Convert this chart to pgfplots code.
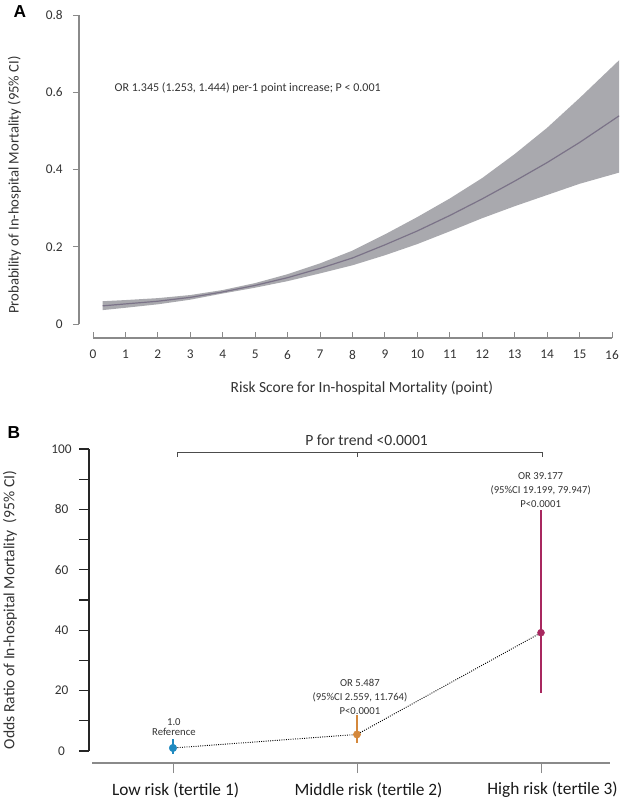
\documentclass[border=0pt]{standalone}
\usepackage{fontspec}
\setmainfont{Carlito}
\newfontfamily\arialf{Liberation Sans}
\usepackage{pgfplots}
\pgfplotsset{compat=1.18}
\usepackage{pgfplotstable}
\definecolor{bandc}{HTML}{A9A9AE}
\definecolor{linec}{HTML}{7B7388}
\definecolor{bluec}{HTML}{1F8AC0}
\definecolor{orangec}{HTML}{D4883C}
\definecolor{magc}{HTML}{A8285F}
\definecolor{txt}{HTML}{333333}
\definecolor{axg}{HTML}{8A8A8A}

\pgfplotstableread{
x mid
0.3 0.047
1 0.052
2 0.059
3 0.069
4 0.083
5 0.100
6 0.120
7 0.144
8 0.171
9 0.205
10 0.241
11 0.281
12 0.324
13 0.370
14 0.418
15 0.470
16.22 0.539
}\midtable

% 95% CI band: upper bound (x increasing) then lower bound (x decreasing)
\pgfplotstableread{
x y
0.3 0.059
1 0.062
2 0.067
3 0.075
4 0.088
5 0.106
6 0.129
7 0.157
8 0.190
9 0.232
10 0.277
11 0.325
12 0.378
13 0.440
14 0.508
15 0.585
16.22 0.683
16.22 0.392
15 0.363
14 0.334
13 0.305
12 0.274
11 0.240
10 0.207
9 0.178
8 0.152
7 0.131
6 0.111
5 0.094
4 0.079
3 0.063
2 0.051
1 0.042
0.3 0.036
0.3 0.059
}\bandtable

\begin{document}
\begin{tikzpicture}
\path[use as bounding box] (0,0) rectangle (469.5pt,-602.25pt);
\node[font=\arialf\bfseries\fontsize{13}{15}\selectfont] at (15pt,-9pt) {A};
\node[font=\arialf\bfseries\fontsize{13}{15}\selectfont] at (10.5pt,-324.75pt) {B};

% ---------------- Panel A
\begin{axis}[
  at={(69.75pt,-243pt)}, anchor=south west,
  scale only axis, width=389.25pt, height=231.75pt,
  xmin=0, xmax=16, ymin=0, ymax=0.8,
  axis x line*=bottom, axis y line*=left,
  axis x line shift=10.5pt, axis y line shift=10.5pt,
  x axis line style={-, draw=axg, line width=0.9pt},
  y axis line style={-, draw=axg, line width=0.9pt},
  xtick={0,1,2,3,4,5,6,7,8,9,10,11,12,13,14,15,16}, ytick={0,0.2,0.4,0.6,0.8},
  tick align=outside, major tick length=4.5pt,
  xtick style={axg, line width=0.7pt, yshift=4.5pt},
  ytick style={axg, line width=0.7pt},
  /pgf/number format/assume math mode=true,
  tick label style={font=\fontsize{10}{12}\selectfont, text=txt},
  xticklabel style={yshift=-1pt},
  yticklabel style={xshift=-4.2pt},
  clip=false,
]
\addplot[fill=bandc, draw=none] table[x=x, y=y] {\bandtable};
\addplot[linec, line width=0.9pt] table[x=x, y=mid] {\midtable};
% x axis line and inward ticks (detached, R style)
\draw[axg, line width=0.9pt] (axis cs:0,-0.03625) -- (axis cs:16,-0.03625);
\pgfplotsinvokeforeach{0,1,...,16}{
  \draw[axg, line width=0.7pt] (axis cs:#1,-0.03625) -- ++(0pt,4.5pt);
}
\node[anchor=west, font=\fontsize{9}{11}\selectfont, text=txt] at (axis cs:0.524,0.612) {OR 1.345 (1.253, 1.444) per-1 point increase; P < 0.001};
\node[font=\fontsize{11.6}{14}\selectfont, text=txt] at (axis cs:8.29,-0.166) {Risk Score for In-hospital Mortality (point)};
\node[rotate=90, font=\fontsize{11}{13}\selectfont, text=txt] at (axis cs:-2.42,0.36) {Probability of In-hospital Mortality (95\% CI)};
\end{axis}

% ---------------- Panel B
\begin{axis}[
  at={(69pt,-563.25pt)}, anchor=south west,
  scale only axis, width=388.5pt, height=226.5pt,
  xmin=-0.44, xmax=2.375, ymin=0, ymax=100,
  axis x line*=bottom, axis y line*=left,
  axis x line shift=9pt, axis y line shift=2.25pt,
  x axis line style={-, draw=axg, line width=0.9pt},
  y axis line style={-, draw=black!85, line width=0.9pt},
  xtick={0,1,2}, xticklabels={,,},
  ytick={0,20,40,60,80,100}, minor ytick={10,30,50,70,90},
  tick align=outside, major tick length=7.5pt, minor tick length=7.5pt,
  xtick style={axg, line width=0.7pt},
  ytick style={black!85, line width=0.8pt},
  /pgf/number format/assume math mode=true,
  tick label style={font=\fontsize{10}{12}\selectfont, text=txt},
  yticklabel style={anchor=center, xshift=-13.1pt},
  clip=false,
]
\addplot[black, densely dotted, line width=0.7pt] coordinates {(0,1.0) (1,5.487) (2,39.177)};
\addplot[draw=none, mark=none, bluec, error bars/.cd, y dir=both, y explicit, error mark=none,
  error bar style={line width=1.5pt, bluec}] coordinates {(0,1.0) += (0,3.0) -= (0,2.0)};
\addplot[draw=none, mark=none, orangec, error bars/.cd, y dir=both, y explicit, error mark=none,
  error bar style={line width=1.5pt, orangec}] coordinates {(1,5.487) += (0,6.277) -= (0,2.928)};
\addplot[draw=none, mark=none, magc, error bars/.cd, y dir=both, y explicit, error mark=none,
  error bar style={line width=1.6pt, magc}] coordinates {(2,39.177) += (0,40.770) -= (0,19.978)};
\addplot[only marks, mark=*, mark size=2.8pt, bluec, mark options={draw=bluec, fill=bluec}] coordinates {(0,1.0)};
\addplot[only marks, mark=*, mark size=2.7pt, orangec, mark options={draw=orangec, fill=orangec}] coordinates {(1,5.487)};
\addplot[only marks, mark=*, mark size=2.6pt, magc, mark options={draw=magc, fill=magc}] coordinates {(2,39.177)};
% trend bracket
\addplot[black!70, line width=0.7pt] coordinates {(0.022,97.4) (0.022,99) (2.01,99) (2.01,97.4)};
\addplot[black!70, line width=0.7pt] coordinates {(1.005,99) (1.005,97.4)};
\node[font=\fontsize{11.7}{14}\selectfont, text=txt] at (axis cs:1.052,103) {P for trend <0.0001};
% annotations
\node[align=center, font=\fontsize{8}{7.6}\selectfont, text=txt] at (axis cs:0.005,8.0) {1.0\\Reference};
\node[align=center, font=\fontsize{8}{10.5}\selectfont, text=txt] at (axis cs:1.016,18.0) {OR 5.487\\(95\%CI 2.559, 11.764)\\P<0.0001};
\node[align=center, font=\fontsize{8}{10.5}\selectfont, text=txt] at (axis cs:1.998,86.4) {OR 39.177\\(95\%CI 19.199, 79.947)\\P<0.0001};
% category labels
\node[font=\fontsize{13}{15}\selectfont, text=black!90] at (axis cs:0.014,-12.9) {Low risk (tertile 1)};
\node[font=\fontsize{13}{15}\selectfont, text=black!90] at (axis cs:1.063,-12.9) {Middle risk (tertile 2)};
\node[font=\fontsize{13}{15}\selectfont, text=black!90] at (axis cs:2.063,-12.9) {High risk (tertile 3)};
\node[rotate=90, font=\fontsize{11.7}{14}\selectfont, text=txt] at (axis cs:-0.886,46.7) {Odds Ratio of In-hospital Mortality\ \ (95\% CI)};
\end{axis}
\end{tikzpicture}
\end{document}
